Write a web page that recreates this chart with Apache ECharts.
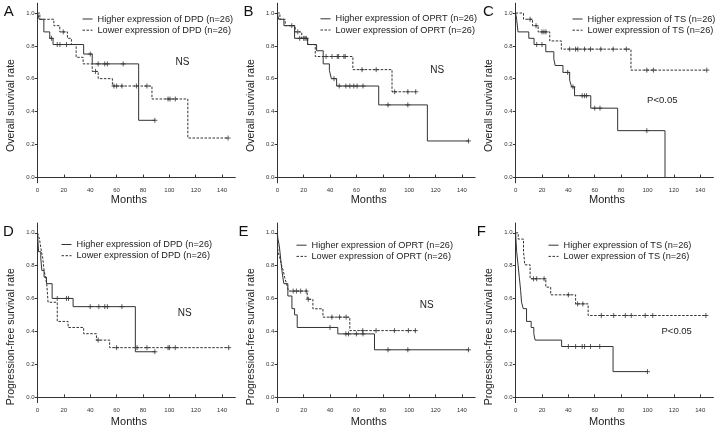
<!DOCTYPE html>
<html><head><meta charset="utf-8">
<script src="https://cdn.jsdelivr.net/npm/echarts@6/dist/echarts.min.js"></script>
<style>html,body{margin:0;padding:0;background:#fff}#c{width:716px;height:442px}</style>
</head><body><div id="c"></div>
<script>
// ---- tick labels ----
const xTicks = [0, 20, 40, 60, 80, 100, 120, 140];
const yTicks = [0, 0.2, 0.4, 0.6, 0.8, 1.0];

// ---- A: overall survival, DPD ----
const A_hi_t = [0, 1.3, 4.8, 9.3, 11.8, 35, 41.5, 76.7, 89];
const A_hi_s = [1, 0.962, 0.885, 0.846, 0.808, 0.75, 0.69, 0.346, 0.346];
const A_hi_c = [10.6, 15, 17, 22, 40, 46, 51, 53, 65, 89];
const A_lo_t = [0, 1.8, 12.4, 16.9, 22.7, 25.7, 29.3, 34.6, 41.5, 46, 56.8, 86.8, 114, 144.5];
const A_lo_s = [1, 0.962, 0.923, 0.885, 0.846, 0.808, 0.73, 0.69, 0.644, 0.6, 0.555, 0.476, 0.238, 0.238];
const A_lo_c = [19.5, 44, 58, 60, 64, 75, 83, 99, 100.5, 104.5, 144.5];
// ---- B: overall survival, OPRT ----
const B_hi_t = [0, 1, 5, 13.1, 23, 29.8, 34.8, 39.5, 41, 45, 76.9, 113.8, 145];
const B_hi_s = [1, 0.962, 0.923, 0.846, 0.808, 0.77, 0.69, 0.65, 0.6, 0.555, 0.44, 0.22, 0.22];
const B_hi_c = [11, 17, 21, 43, 47, 52, 55, 58, 60.5, 65, 84, 99, 145];
const B_lo_t = [0, 2, 6, 13.6, 18.5, 23, 28.8, 57.3, 87, 105];
const B_lo_s = [1, 0.962, 0.923, 0.885, 0.846, 0.808, 0.735, 0.655, 0.52, 0.52];
const B_lo_c = [15.5, 20, 22, 37, 41.5, 45.5, 46.5, 50.5, 51.5, 64.3, 75, 89, 99, 105];
// ---- C: overall survival, TS ----
const C_hi_t = [0, 0.8, 1.8, 10, 14, 22.9, 29, 30, 35.9, 41, 42.5, 44.7, 57, 77.4, 113.3];
const C_hi_s = [1, 0.962, 0.885, 0.846, 0.808, 0.764, 0.72, 0.68, 0.638, 0.59, 0.55, 0.496, 0.42, 0.283, 0];
const C_hi_c = [16, 20, 39.5, 43.5, 50.5, 52.3, 53.8, 60, 64, 99.5];
const C_lo_t = [0, 6, 12.8, 17.1, 25.9, 34.7, 87.5, 145];
const C_lo_s = [1, 0.962, 0.923, 0.885, 0.83, 0.78, 0.652, 0.652];
const C_lo_c = [11, 15.5, 20, 21.5, 23, 41, 45.5, 47.2, 52.3, 56.8, 64.6, 74, 84, 99.5, 104.5, 145];
// ---- D: progression-free survival, DPD ----
const D_hi_t = [0, 0.8, 2.5, 3.3, 5, 6.8, 11.1, 27, 74.2, 89];
const D_hi_s = [1, 0.885, 0.846, 0.77, 0.73, 0.69, 0.6, 0.55, 0.275, 0.275];
const D_hi_c = [15, 22, 23.5, 40, 46.5, 51, 53, 64, 89];
const D_lo_t = [0, 1.5, 3, 4, 5, 6, 7, 8, 15, 23.2, 35, 44.7, 54.7, 145];
const D_lo_s = [1, 0.962, 0.885, 0.846, 0.77, 0.731, 0.69, 0.577, 0.46, 0.423, 0.385, 0.346, 0.3, 0.3];
const D_lo_c = [46, 60, 75.5, 83, 99, 100, 104.5, 145];
// ---- E: progression-free survival, OPRT ----
const E_hi_t = [0, 0.5, 1.5, 2.5, 3.5, 4.2, 5, 8, 11.1, 13.1, 15.1, 45.9, 73.7, 145];
const E_hi_s = [1, 0.962, 0.923, 0.846, 0.77, 0.73, 0.69, 0.615, 0.538, 0.5, 0.423, 0.384, 0.287, 0.287];
const E_hi_c = [40, 52, 54, 60, 65, 84, 99, 145];
const E_lo_t = [0, 0.5, 2, 3, 4.5, 5.5, 7, 8.5, 22.7, 27, 34.6, 55, 105];
const E_lo_s = [1, 0.885, 0.846, 0.808, 0.77, 0.73, 0.69, 0.645, 0.595, 0.537, 0.486, 0.404, 0.404];
const E_lo_c = [12, 14.5, 17.7, 21.9, 23.5, 41.4, 47.2, 52.2, 64.8, 74.9, 88.8, 99.4, 104.7];
// ---- F: progression-free survival, TS ----
const F_hi_t = [0, 0.8, 1.8, 2.8, 3.8, 4.5, 5.8, 8.3, 11.8, 13.8, 14.8, 34.9, 73.9, 100];
const F_hi_s = [1, 0.885, 0.81, 0.73, 0.65, 0.577, 0.538, 0.46, 0.423, 0.385, 0.346, 0.307, 0.154, 0.154];
const F_hi_c = [40, 45.5, 50.5, 52.3, 56.8, 63.8, 100];
const F_lo_t = [0, 2, 6, 7, 11, 22.9, 26.6, 45.5, 55, 145];
const F_lo_s = [1, 0.962, 0.885, 0.805, 0.72, 0.669, 0.622, 0.567, 0.496, 0.496];
const F_lo_c = [13.6, 16, 21.6, 40, 47, 51, 65, 74.4, 83.2, 87.7, 98.3, 104, 144.3];

// ---- text ----
const letters = ['A', 'B', 'C', 'D', 'E', 'F'];
const stats = ['NS', 'NS', 'P<0.05', 'NS', 'NS', 'P<0.05'];
const genes = ['DPD', 'OPRT', 'TS', 'DPD', 'OPRT', 'TS'];
const yNames = ['Overall survival rate', 'Overall survival rate', 'Overall survival rate',
  'Progression-free survival rate', 'Progression-free survival rate', 'Progression-free survival rate'];
const xName = 'Months';

const curves = [
  [A_hi_t, A_hi_s, A_hi_c, A_lo_t, A_lo_s, A_lo_c],
  [B_hi_t, B_hi_s, B_hi_c, B_lo_t, B_lo_s, B_lo_c],
  [C_hi_t, C_hi_s, C_hi_c, C_lo_t, C_lo_s, C_lo_c],
  [D_hi_t, D_hi_s, D_hi_c, D_lo_t, D_lo_s, D_lo_c],
  [E_hi_t, E_hi_s, E_hi_c, E_lo_t, E_lo_s, E_lo_c],
  [F_hi_t, F_hi_s, F_hi_c, F_lo_t, F_lo_s, F_lo_c]
];

// ---- layout (styling only) ----
const FONT = '"Liberation Sans", Arial, Helvetica, sans-serif';
const INK = '#333';
const gridL = [37.5, 277.3, 515.6, 37.5, 277.3, 515.6];
const gridT = [3.2, 3.2, 3.2, 223.0, 223.0, 223.0];
const GW = 197.8, GH = 179.6;
const legendPos = [[82, 14.5], [320, 14.3], [572, 14.5], [61, 240], [296, 240.7], [548, 240.7]];
const letterPos = [[8.7, 11.5], [248.5, 11.5], [488.5, 11.5], [8.3, 231.5], [243.5, 231.5], [481.3, 231.5]];
const statPos = [[182.5, 62.3], [437.2, 70.3], [662.3, 100.3], [184.8, 313.3], [426.8, 305], [676.7, 331.7]];

function survAt(ts, ss, t) {
  let v = ss[0];
  for (let i = 0; i < ts.length; i++) { if (ts[i] <= t) v = ss[i]; }
  return v;
}

const grid = [], xAxis = [], yAxis = [], series = [], legend = [], graphic = [];
const plus = 'path://M5,0L5,10M0,5L10,5';

for (let p = 0; p < 6; p++) {
  const top = p < 3;
  grid.push({ left: gridL[p], top: gridT[p], width: GW, height: GH, containLabel: false });
  xAxis.push({
    type: 'value', gridIndex: p, min: 0, max: 150,
    name: xName, nameLocation: 'middle', nameGap: top ? 10 : 13.5,
    nameTextStyle: { fontFamily: FONT, fontSize: 11, color: '#222', padding: [0, 15, 0, 0] },
    axisLine: { lineStyle: { color: INK, width: 1 } },
    axisTick: { customValues: xTicks, inside: true, length: 2.5, lineStyle: { color: INK } },
    axisLabel: { customValues: xTicks, fontFamily: FONT, fontSize: 6, color: '#333', margin: 5 },
    splitLine: { show: false }
  });
  yAxis.push({
    type: 'value', gridIndex: p, min: -0.035, max: 1.06,
    name: yNames[p], nameLocation: 'middle', nameGap: 20.5,
    nameTextStyle: { fontFamily: FONT, fontSize: 10.5, color: '#222', padding: [0, top ? 25 : 48, 0, 0] },
    axisLine: { lineStyle: { color: INK, width: 1 } },
    axisTick: { customValues: yTicks, length: 2.7, lineStyle: { color: INK } },
    axisLabel: { customValues: yTicks, fontFamily: FONT, fontSize: 6, color: '#333', margin: 3,
      formatter: v => Number(v).toFixed(1) },
    splitLine: { show: false }
  });
  const [ht, hs, hc, lt, ls, lc] = curves[p];
  const hiName = 'Higher expression of ' + genes[p] + ' (n=26)';
  const loName = 'Lower expression of ' + genes[p] + ' (n=26)';
  series.push({
    name: hiName, type: 'line', xAxisIndex: p, yAxisIndex: p, step: 'end', symbol: 'none',
    lineStyle: { color: INK, width: 1 }, itemStyle: { color: INK },
    data: ht.map((t, i) => [t, hs[i]])
  });
  series.push({
    name: loName, type: 'line', xAxisIndex: p, yAxisIndex: p, step: 'end', symbol: 'none',
    lineStyle: { color: INK, width: 1, type: [2.5, 1.5] }, itemStyle: { color: INK },
    data: lt.map((t, i) => [t, ls[i]])
  });
  series.push({
    name: 'cens_hi_' + p, type: 'scatter', xAxisIndex: p, yAxisIndex: p, symbol: plus, symbolSize: 5,
    itemStyle: { color: 'rgba(0,0,0,0)', borderColor: INK, borderWidth: 1 },
    data: hc.map(t => [t, survAt(ht, hs, t)])
  });
  series.push({
    name: 'cens_lo_' + p, type: 'scatter', xAxisIndex: p, yAxisIndex: p, symbol: plus, symbolSize: 5,
    itemStyle: { color: 'rgba(0,0,0,0)', borderColor: INK, borderWidth: 1 },
    data: lc.map(t => [t, survAt(lt, ls, t)])
  });
  legend.push({
    data: [hiName, loName], orient: 'vertical', left: legendPos[p][0], top: legendPos[p][1],
    padding: 0, itemWidth: 10, itemHeight: 10, itemGap: 2.2,
    itemStyle: { color: 'rgba(0,0,0,0)', borderWidth: 0, opacity: 0 },
    lineStyle: { width: 1, color: INK },
    textStyle: { fontFamily: FONT, fontSize: 9.2, color: '#222' },
    selectedMode: false
  });
  graphic.push({ type: 'text', x: letterPos[p][0], y: letterPos[p][1],
    style: { text: letters[p], font: '15px ' + FONT, fill: '#111',
      align: 'center', verticalAlign: 'middle', textAlign: 'center', textVerticalAlign: 'middle' } });
  graphic.push({ type: 'text', x: statPos[p][0], y: statPos[p][1],
    style: { text: stats[p], font: (p === 2 || p === 5 ? '9.5px ' : '10px ') + FONT, fill: '#222',
      align: 'center', verticalAlign: 'middle', textAlign: 'center', textVerticalAlign: 'middle' } });
}

const chart = echarts.init(document.getElementById('c'), null, { renderer: 'canvas' });
chart.setOption({ animation: false, backgroundColor: '#fff', grid, xAxis, yAxis, series, legend, graphic });
</script></body></html>
